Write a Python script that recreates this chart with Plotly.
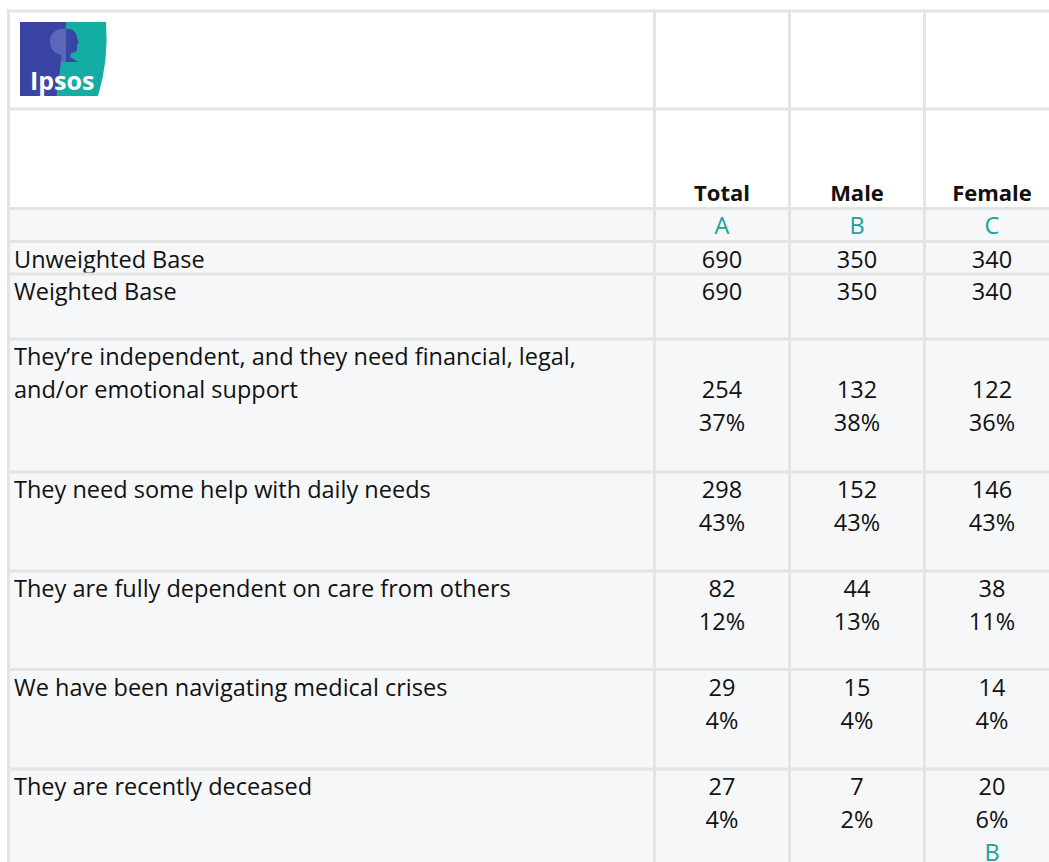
import plotly.graph_objects as go

# ---------------- data ----------------
columns = ["Total", "Male", "Female"]
col_letters = ["A", "B", "C"]
unweighted_base = [690, 350, 340]
weighted_base = [690, 350, 340]
row_labels = [
    ["They’re independent, and they need financial, legal,", "and/or emotional support"],
    ["They need some help with daily needs"],
    ["They are fully dependent on care from others"],
    ["We have been navigating medical crises"],
    ["They are recently deceased"],
]
counts = [
    [254, 132, 122],
    [298, 152, 146],
    [82, 44, 38],
    [29, 15, 14],
    [27, 7, 20],
]
percents = [
    [37, 38, 36],
    [43, 43, 43],
    [12, 13, 11],
    [4, 4, 4],
    [4, 2, 6],
]
sig_letters = [
    ["", "", ""],
    ["", "", ""],
    ["", "", ""],
    ["", "", ""],
    ["", "", "B"],
]

# ---------------- layout constants ----------------
W, H = 1049, 862
FONT = "Open Sans"
FS = 23.5
FS_BOLD = 22
GRID = "#e4e4e4"
CELLBG = "#f6f7f9"
TEAL = "#19a39c"
TXT = "#111111"

left_edge = 8.5
col_edges = [654.5, 789.5, 924.5, 1059.5]
row_edges = [11, 109, 208.5, 241.5, 274, 339, 472, 571, 669.5, 769, 900]
LINE = 33
FIRST = 20.5
label_x = 14

col_centers = [(col_edges[i] + col_edges[i + 1]) / 2 for i in range(3)]

fig = go.Figure()
shapes = []

# cell backgrounds (body rows)
shapes.append(dict(type="rect", xref="x", yref="y", x0=left_edge, x1=W + 40,
                   y0=row_edges[2], y1=H + 40, fillcolor=CELLBG, line_width=0, layer="below"))

# grid lines
for y in row_edges[:-1]:
    shapes.append(dict(type="line", xref="x", yref="y", x0=left_edge - 1.5, x1=W + 40,
                       y0=y, y1=y, line=dict(color=GRID, width=3)))
for x in [left_edge] + col_edges[:-1]:
    shapes.append(dict(type="line", xref="x", yref="y", x0=x, x1=x,
                       y0=row_edges[0] - 1.5, y1=H + 40, line=dict(color=GRID, width=3)))

# ---------------- logo ----------------
BLUE = "#3a44a5"
LTEAL = "#14ada3"
shapes.append(dict(type="path", xref="x", yref="y",
                   path="M 20 22 L 67 22 L 57 96 L 20 96 Z",
                   fillcolor=BLUE, line_width=0))
shapes.append(dict(type="path", xref="x", yref="y",
                   path="M 66.5 22 L 106 22 Q 109 60 98 96 L 56.5 96 Z",
                   fillcolor=LTEAL, line_width=0))
# tree crown (left half)
shapes.append(dict(type="path", xref="x", yref="y",
                   path="M 66 29 C 57 28 50 33 50 41 C 50 49 55 54 61 55 L 62 62 L 66 62 Z",
                   fillcolor="#5c66bb", line_width=0))
# head profile (right half)
shapes.append(dict(type="path", xref="x", yref="y",
                   path="M 66 29 C 72 28 77 32 77 38 L 79 43 L 77 44 L 77 49 C 77 52 73 53 71 53 "
                        "L 70 57 C 73 59 76 60 78 62 L 66 62 Z",
                   fillcolor=BLUE, line_width=0))

fig.add_annotation(x=62, y=80, xref="x", yref="y", text="<b>Ipsos</b>", showarrow=False,
                   font=dict(family=FONT, size=25, color="white"), xanchor="center", yanchor="middle")

# ---------------- texts ----------------
def add_text(xs, ys, texts, color=TXT, bold=False, pos="middle center", size=FS):
    fig.add_trace(go.Scatter(
        x=xs, y=ys, mode="text",
        text=[f"<b>{t}</b>" if bold else t for t in texts],
        textposition=pos,
        textfont=dict(family=FONT, size=size, color=color),
        hoverinfo="skip", showlegend=False, cliponaxis=False,
    ))

# header
add_text(col_centers, [row_edges[2] - 13.5] * 3, columns, bold=True, size=FS_BOLD)
add_text(col_centers, [row_edges[2] + 20] * 3, col_letters, color=TEAL)

# bases
add_text([label_x], [row_edges[3] + FIRST], ["Unweighted Base"], pos="middle right")
add_text(col_centers, [row_edges[3] + FIRST] * 3, [str(v) for v in unweighted_base])
add_text([label_x], [row_edges[4] + FIRST], ["Weighted Base"], pos="middle right")
add_text(col_centers, [row_edges[4] + FIRST] * 3, [str(v) for v in weighted_base])

# body
lx, ly, lt = [], [], []
nx, ny, nt = [], [], []
sx, sy, st = [], [], []
for r, labels in enumerate(row_labels):
    top = row_edges[5 + r]
    for k, line in enumerate(labels):
        lx.append(label_x); ly.append(top + FIRST + LINE * k); lt.append(line)
    base_line = len(labels) - 1
    for c in range(3):
        nx += [col_centers[c], col_centers[c]]
        ny += [top + FIRST + LINE * base_line, top + FIRST + LINE * (base_line + 1)]
        nt += [str(counts[r][c]), f"{percents[r][c]}%"]
        if sig_letters[r][c]:
            sx.append(col_centers[c]); sy.append(top + FIRST + LINE * (base_line + 2))
            st.append(sig_letters[r][c])

add_text(lx, ly, lt, pos="middle right")
add_text(nx, ny, nt)
add_text(sx, sy, st, color=TEAL)

fig.update_layout(
    width=W, height=H,
    margin=dict(l=0, r=0, t=0, b=0),
    paper_bgcolor="white", plot_bgcolor="white",
    shapes=shapes,
    xaxis=dict(range=[0, W], visible=False, fixedrange=True),
    yaxis=dict(range=[H, 0], visible=False, fixedrange=True),
)

fig.write_html(
    "out.html",
    config={"displayModeBar": False, "staticPlot": True},
    post_script="document.body.style.margin='0';document.body.style.overflow='hidden';",
)
